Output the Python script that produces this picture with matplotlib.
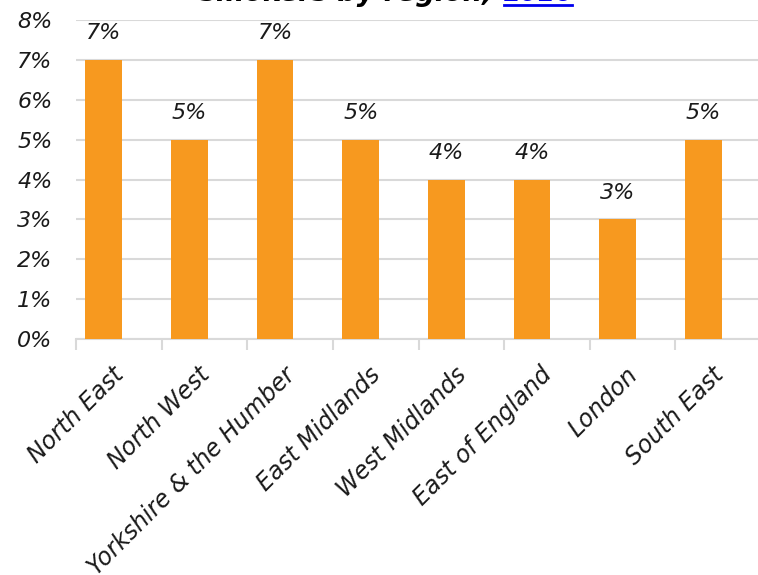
import matplotlib.pyplot as plt
from matplotlib.transforms import ScaledTranslation
from matplotlib.lines import Line2D

# Data
regions = ["North East", "North West", "Yorkshire & the Humber", "East Midlands",
           "West Midlands", "East of England", "London", "South East"]
values = [7, 5, 7, 5, 4, 4, 3, 5]
y_ticks = [0, 1, 2, 3, 4, 5, 6, 7, 8]

bar_color = "#F7991F"
grid_color = "#D9D9D9"
text_color = "#1A1A1A"
plt.rcParams['font.family'] = ['DejaVu Sans']

fig = plt.figure(figsize=(7.58, 5.75), dpi=100)
ax = fig.add_axes([76 / 758, 1 - 339 / 575, 685 / 758, 319 / 575])

# bars sit left of the category centre (empty second series in the original)
x = list(range(len(regions)))
bar_x = [xi - 0.175 for xi in x]
ax.bar(bar_x, values, width=0.43, color=bar_color, zorder=3)

# Data labels
for xi, v in zip(bar_x, values):
    ax.annotate(f"{v}%", xy=(xi, v), xytext=(0, 12), textcoords="offset points",
                ha="center", va="bottom", fontsize=16, style="italic", color=text_color)

ax.set_xlim(-0.5, len(regions) - 0.5)
ax.set_ylim(0, 8)
ax.set_yticks(y_ticks)
ax.set_yticklabels([f"{t}%" for t in y_ticks], fontsize=16, style="italic", color=text_color)
ax.tick_params(axis="y", length=0, pad=17)
ax.yaxis.grid(True, color=grid_color, linewidth=1.5, zorder=0)

ax.set_xticks(x)
ax.set_xticklabels(regions, rotation=45, ha="right", va="center", rotation_mode="anchor",
                   fontsize=17, style="italic", color=text_color)
ax.tick_params(axis="x", length=0, pad=23)
shift = ScaledTranslation(1 / 72, 0, fig.dpi_scale_trans)
for lab in ax.get_xticklabels():
    lab.set_transform(lab.get_transform() + shift)
ax.set_xticks([i - 0.5 for i in x], minor=True)
ax.tick_params(axis="x", which="minor", length=8, width=1.5, color=grid_color)

for side in ["top", "right", "left"]:
    ax.spines[side].set_visible(False)
ax.spines["bottom"].set_color(grid_color)
ax.spines["bottom"].set_linewidth(1.5)

# Title, mostly cut off at the top of the picture
base_y = 1 - 1 / 575
fig.text(492 / 758, base_y, "smokers by region,", fontsize=19.5, fontweight="bold",
         style="italic", ha="right", va="baseline", color="black")
fig.text(504 / 758, base_y, "2016", fontsize=18, fontweight="bold", style="italic",
         ha="left", va="baseline", color="#0000EE")
fig.add_artist(Line2D([504 / 758, 572 / 758], [1 - 5 / 575, 1 - 5 / 575],
                      color="#0000EE", linewidth=2, transform=fig.transFigure))

fig.savefig("out.png", dpi=100)
